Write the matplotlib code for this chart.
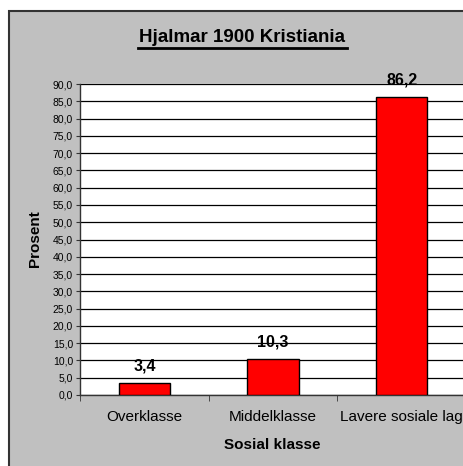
import matplotlib
matplotlib.use("Agg")
import matplotlib.pyplot as plt
from matplotlib.patches import Rectangle
from matplotlib.ticker import FuncFormatter, MultipleLocator

categories = ["Overklasse", "Middelklasse", "Lavere sosiale lag"]
values = [3.4, 10.3, 86.2]
title = "Hjalmar 1900 Kristiania"
xlabel = "Sosial klasse"
ylabel = "Prosent"

plt.rcParams['font.family'] = ['Liberation Sans', 'DejaVu Sans']

W, H = 464, 466
fig = plt.figure(figsize=(W / 100, H / 100), dpi=100, facecolor="white")

# grey chart area
bg = Rectangle((9 / W, -0.1), 1.2, (H - 11) / H + 0.1, transform=fig.transFigure,
               facecolor="#C0C0C0", edgecolor="#333333", linewidth=1.5, zorder=-5)
fig.patches.append(bg)

left, right, top, bottom = 80, 466, 84, 395
ax = fig.add_axes([left / W, (H - bottom) / H, (right - left) / W, (bottom - top) / H])
ax.set_zorder(1)
ax.set_facecolor("white")

x = list(range(len(categories)))
ax.bar(x, values, width=0.40, color="#FF0000", edgecolor="black", linewidth=1.0, zorder=3)

ax.set_xlim(-0.5, 2.5)
ax.set_ylim(0, 90)
ax.yaxis.set_major_locator(MultipleLocator(5))
ax.yaxis.set_major_formatter(FuncFormatter(lambda v, p: f"{v:.1f}".replace(".", ",")))
ax.grid(axis="y", color="black", linewidth=0.9, zorder=1)
ax.set_axisbelow(True)

ax.set_xticks(x)
ax.set_xticklabels(categories, fontsize=11)
ax.tick_params(axis="x", which="major", length=0, pad=11)
ax.set_xticks([-0.5, 0.5, 1.5], minor=True)
ax.tick_params(axis="x", which="minor", length=4, direction="out", color="#333333")
ax.tick_params(axis="y", labelsize=7.5, length=3, direction="out", pad=2, color="#333333")

for s in ["top", "right"]:
    ax.spines[s].set_visible(False)
for s in ["left", "bottom"]:
    ax.spines[s].set_color("#333333")
    ax.spines[s].set_linewidth(1.0)

for xi, v in zip(x, values):
    ax.annotate(f"{v:.1f}".replace(".", ","), (xi, v), xytext=(0, 7),
                textcoords="offset points", ha="center", va="bottom",
                fontsize=11.5, fontweight="bold")

fig.text(242 / W, 1 - 38 / H, title, ha="center", va="center",
         fontsize=13.5, fontweight="bold")
# underline for title
fig.add_artist(plt.Line2D([138 / W, 347 / W], [1 - 48.5 / H, 1 - 48.5 / H],
                          color="black", linewidth=2, transform=fig.transFigure))

fig.text(35 / W, 1 - 239 / H, ylabel, rotation=90, ha="center", va="center",
         fontsize=11, fontweight="bold")
fig.text(272 / W, 1 - 445 / H, xlabel, ha="center", va="center",
         fontsize=11, fontweight="bold")

fig.savefig("out.png", dpi=100, facecolor="white")
